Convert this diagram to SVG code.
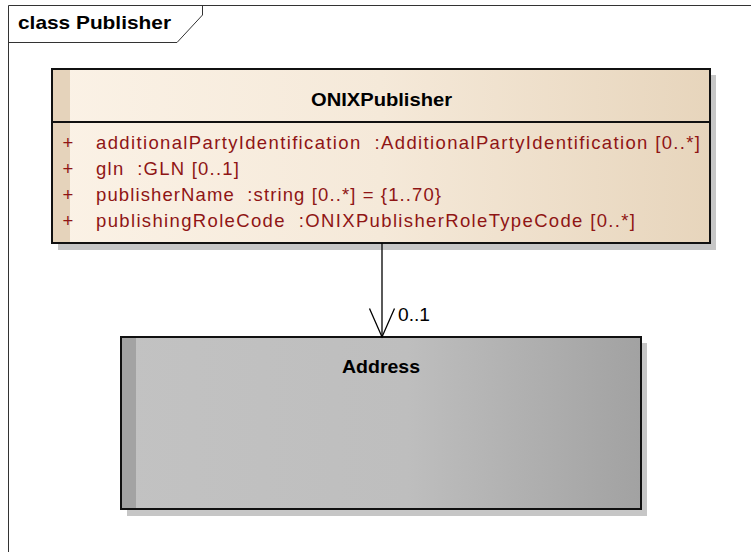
<svg xmlns="http://www.w3.org/2000/svg" width="751" height="552" viewBox="0 0 751 552">
  <style>
    .frame { fill: none; stroke: #333333; stroke-width: 1; }
    .box { stroke: #111111; stroke-width: 2; }
    .shadow { fill: #c6c6c6; stroke: none; }
    .title { font-family: "Liberation Sans", Arial, sans-serif; font-weight: bold; font-size: 18.5px; fill: #000000; }
    .attr { font-family: "Liberation Sans", Arial, sans-serif; font-size: 18.5px; fill: #8f1515; white-space: pre; }
    .label { font-family: "Liberation Sans", Arial, sans-serif; font-size: 18px; fill: #000000; }
    .conn { fill: none; stroke: #000000; stroke-width: 1.3; }
  </style>
  <defs>
    <linearGradient id="gPub" x1="0" y1="0" x2="1" y2="0">
      <stop offset="0" stop-color="#fbf2e6"/>
      <stop offset="0.5" stop-color="#f5e9d9"/>
      <stop offset="1" stop-color="#e7d5bc"/>
    </linearGradient>
    <linearGradient id="gAddr" x1="0" y1="0" x2="1" y2="0">
      <stop offset="0" stop-color="#c2c2c2"/>
      <stop offset="0.55" stop-color="#bebebe"/>
      <stop offset="1" stop-color="#a2a2a2"/>
    </linearGradient>
  </defs>
  <rect x="0" y="0" width="751" height="552" fill="#ffffff"/>

  <g id="frame">
    <path class="frame" d="M8.5,552 L8.5,5.5 L751,5.5"/>
    <path class="frame" d="M8.5,42.5 L177,42.5 L202.5,15 L202.5,5.5"/>
    <text class="title" x="18" y="29" font-size="17.5" textLength="153" lengthAdjust="spacingAndGlyphs">class Publisher</text>
  </g>

  <g id="ONIXPublisher">
    <rect class="shadow" x="58" y="75" width="658" height="175"/>
    <rect x="52" y="69" width="658" height="174" fill="url(#gPub)"/>
    <rect x="52" y="69" width="18" height="174" fill="#e5d3bb"/>
    <rect class="box" x="52" y="69" width="658" height="174" fill="none"/>
    <line class="box" x1="52" y1="122" x2="710" y2="122"/>
    <text class="title" x="311" y="106" textLength="141" lengthAdjust="spacingAndGlyphs">ONIXPublisher</text>
    <text class="attr" x="68" y="149" text-anchor="middle">+</text>
    <text class="attr" x="96" y="149" textLength="604" lengthAdjust="spacing">additionalPartyIdentification  :AdditionalPartyIdentification [0..*]</text>
    <text class="attr" x="68" y="175" text-anchor="middle">+</text>
    <text class="attr" x="96" y="175" textLength="143" lengthAdjust="spacing">gln  :GLN [0..1]</text>
    <text class="attr" x="68" y="201" text-anchor="middle">+</text>
    <text class="attr" x="96" y="201" textLength="345" lengthAdjust="spacing">publisherName  :string [0..*] = {1..70}</text>
    <text class="attr" x="68" y="227" text-anchor="middle">+</text>
    <text class="attr" x="96" y="227" textLength="539" lengthAdjust="spacing">publishingRoleCode  :ONIXPublisherRoleTypeCode [0..*]</text>
  </g>

  <g id="Address">
    <rect class="shadow" x="127" y="343" width="520" height="173"/>
    <rect x="121" y="337" width="520" height="172" fill="url(#gAddr)"/>
    <rect x="121" y="337" width="15" height="172" fill="#a3a3a3"/>
    <rect class="box" x="121" y="337" width="520" height="172" fill="none"/>
    <text class="title" x="342" y="373" textLength="78" lengthAdjust="spacingAndGlyphs">Address</text>
  </g>

  <g id="connectors">
    <line class="conn" x1="382" y1="243" x2="382" y2="337"/>
    <path class="conn" d="M369.5,308.5 L382,337 L394.5,308.5"/>
    <text class="label" x="398" y="321" textLength="32" lengthAdjust="spacingAndGlyphs">0..1</text>
  </g>
</svg>
